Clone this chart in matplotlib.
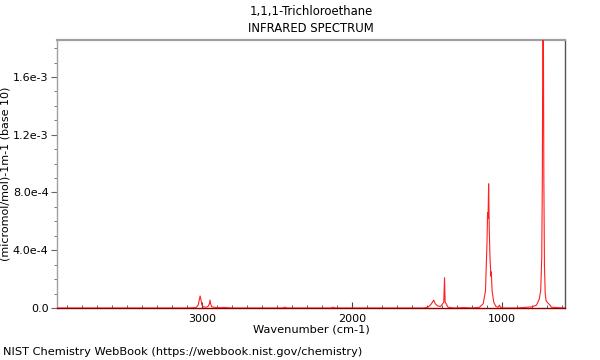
#!/usr/bin/env python3
"""
IR spectrum of 1,1,1-trichloroethane, NIST WebBook style.
Saves out.png (600x360).
"""

import matplotlib; matplotlib.use("Agg")
import matplotlib.pyplot as plt
import matplotlib.ticker as ticker

# spectrum points: wavenumber (cm-1), absorbance
wavenumber = [
    3966, 3100, 3040, 3025, 3017, 3012, 3007, 3000, 2990, 2975,
    2960, 2950, 2946, 2942, 2935, 2920, 2880, 2850, 2800, 2460,
    2447, 2435, 2140, 2127, 2110, 1520, 1490, 1470, 1455, 1445,
    1430, 1410, 1395, 1388, 1383, 1379, 1372, 1360, 1320, 1250,
    1200, 1150, 1125, 1110, 1100, 1096, 1093, 1089, 1085, 1080,
    1074, 1071, 1066, 1055, 1040, 1025, 1017, 1010, 990, 900,
    850, 800, 770, 752, 742, 735, 731, 728, 724, 721,
    717, 712, 706, 698, 690, 680, 670, 580,
]
absorbance = [
    0.0, 0.0, 3e-6, 2e-5, 6e-5, 8.3e-5, 6e-5, 2e-5, 8e-6, 5e-6,
    1e-5, 3e-5, 5.5e-5, 3e-5, 8e-6, 5e-6, 2e-6, 4e-6, 0.0, 0.0,
    6e-6, 0.0, 0.0, 5e-6, 0.0, 0.0, 8e-6, 3e-5, 5.5e-5, 3e-5,
    1.5e-5, 1e-5, 3e-5, 4e-5, 2.1e-4, 4e-5, 3e-5, 5e-6, 0.0, 3e-6,
    0.0, 5e-6, 3e-5, 1.2e-4, 4.5e-4, 6.6e-4, 6.2e-4, 8.6e-4, 5.5e-4, 3.5e-4,
    2.2e-4, 2.5e-4, 1.2e-4, 4e-5, 1e-5, 5e-6, 2e-5, 5e-6, 0.0, 0.0,
    4e-6, 8e-6, 2e-5, 6e-5, 1.2e-4, 3.5e-4, 9e-4, 1.9e-3, 1.9e-3, 9e-4,
    3e-4, 1e-4, 5e-5, 4e-5, 3e-5, 2e-5, 5e-6, 0.0,
]

x_lim = (3966, 580)
y_lim = (0, 1.856e-3)
y_ticks = [0.0, 4.0e-4, 8.0e-4, 1.2e-3, 1.6e-3]
y_ticklabels = ["0.0", "4.0e-4", "8.0e-4", "1.2e-3", "1.6e-3"]
x_ticks = [3000, 2000, 1000]


def main():
    fig = plt.figure(figsize=(6, 3.6), dpi=100)
    ax = fig.add_axes([57 / 600, 1 - 308 / 360, 508 / 600, 268 / 360])

    ax.plot(wavenumber, absorbance, color="#ff2020", lw=0.8, zorder=3)

    ax.set_xlim(*x_lim)
    ax.set_ylim(*y_lim)

    ax.set_xticks(x_ticks)
    ax.xaxis.set_minor_locator(ticker.MultipleLocator(100))
    ax.set_yticks(y_ticks)
    ax.set_yticklabels(y_ticklabels)
    ax.yaxis.set_minor_locator(ticker.MultipleLocator(1e-4))

    ax.tick_params(axis="x", which="both", direction="in", labelsize=8,
                   color="#444444", pad=4)
    ax.tick_params(axis="x", which="major", length=4)
    ax.tick_params(axis="x", which="minor", length=2.5)
    ax.tick_params(axis="y", which="both", direction="out", labelsize=8,
                   color="#666666", pad=2)
    ax.tick_params(axis="y", which="major", length=4)
    ax.tick_params(axis="y", which="minor", length=2.5)

    ax.spines["top"].set_color("#a0a0a0")
    ax.spines["top"].set_linewidth(1.6)
    ax.spines["left"].set_color("#a0a0a0")
    ax.spines["left"].set_linewidth(1.0)
    ax.spines["right"].set_color("#555555")
    ax.spines["right"].set_linewidth(1.0)
    ax.spines["bottom"].set_color("#880000")
    ax.spines["bottom"].set_linewidth(1.0)

    ax.set_xlabel("Wavenumber (cm-1)", fontsize=8.2, labelpad=1)
    ax.set_ylabel("(micromol/mol)-1m-1 (base 10)", fontsize=8)
    ax.yaxis.set_label_coords(-0.0925, 0.5)

    fig.text(311 / 600, 1 - 12 / 360, "1,1,1-Trichloroethane",
             ha="center", va="center", fontsize=8.4)
    fig.text(311 / 600, 1 - 29 / 360, "INFRARED SPECTRUM",
             ha="center", va="center", fontsize=8.4)
    fig.text(3 / 600, 1 - 352 / 360,
             "NIST Chemistry WebBook (https://webbook.nist.gov/chemistry)",
             ha="left", va="center", fontsize=8.2)

    fig.savefig("out.png", dpi=100)
    plt.close(fig)


if __name__ == "__main__":
    main()
